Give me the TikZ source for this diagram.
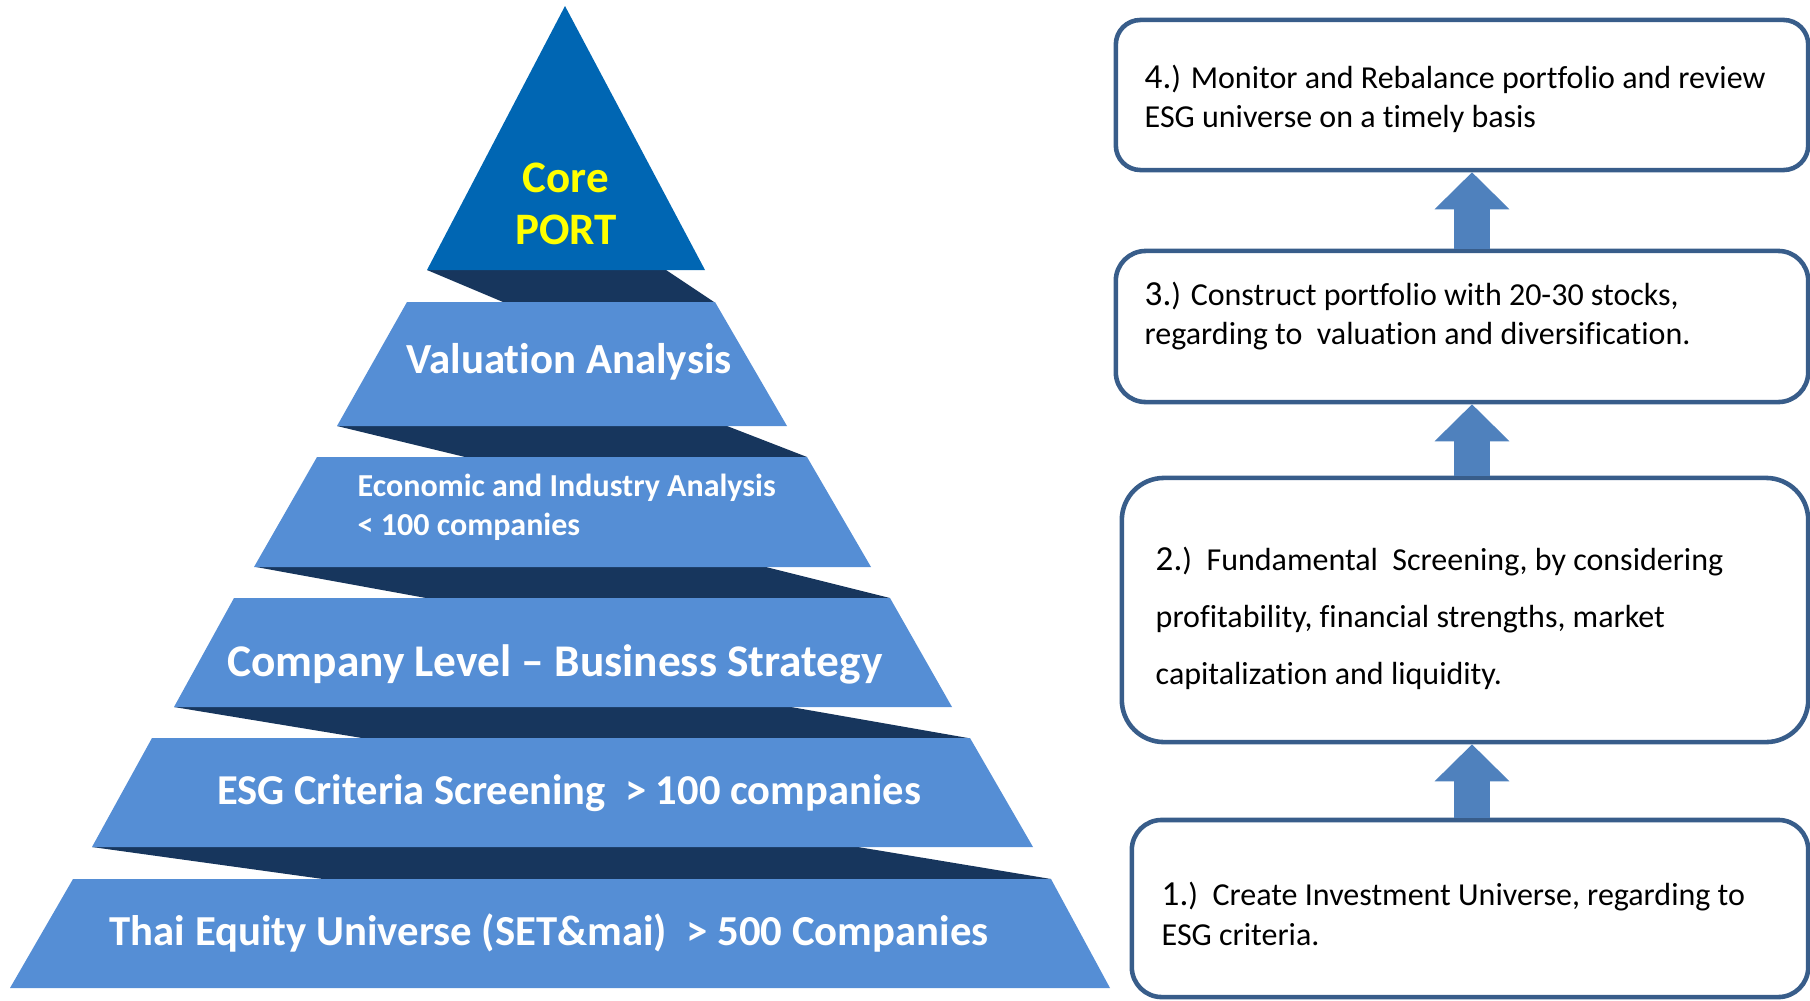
\documentclass[tikz,border=0pt]{standalone}
\usepackage{fontspec}
\setmainfont{Carlito}[Ligatures={TeX,NoCommon}]
\usepackage{xcolor}
\usetikzlibrary{arrows.meta, calc}

\definecolor{tierblue}{RGB}{85,142,213}
\definecolor{topblue}{RGB}{0,102,179}
\definecolor{sidenavy}{RGB}{23,54,93}
\definecolor{boxline}{RGB}{56,93,138}
\definecolor{arrowblue}{RGB}{79,129,189}
\definecolor{coreyellow}{RGB}{255,255,0}

\begin{document}
\begin{tikzpicture}[
    x=0.01cm, y=-0.01cm,
    tier/.style={fill=tierblue},
    tierside/.style={fill=sidenavy},
    tierlabel/.style={text=white, inner sep=0pt, align=center},
    stagebox/.style={draw=boxline, line width=1.3pt, fill=white, inner sep=0pt},
    stagetext/.style={anchor=west, align=left, inner sep=0pt},
    stagearrow/.style={draw=arrowblue, line width=10.5pt,
        -{Triangle[length=10.5pt, width=21.3pt, line width=0pt]}}
]
    \clip (0,0) rectangle (1810,1000);

    % Pyramid: dark sides first, then the tiers
    \fill[tierside] (427,270) -- (666,270) -- (714,302) -- (503,302) -- cycle;
    \fill[tierside] (337,426) -- (727,426) -- (807,457) -- (465,457) -- cycle;
    \fill[tierside] (256,567) -- (766,567) -- (890,598) -- (426,598) -- cycle;
    \fill[tierside] (174,707) -- (791,707) -- (968,738) -- (362,738) -- cycle;
    \fill[tierside] (92,847) -- (858,847) -- (1051,879) -- (323,879) -- cycle;

    \fill[topblue] (565,6) -- (705,270) -- (427,270) -- cycle;
    \fill[tier] (407,302) -- (715,302) -- (787,426) -- (337,426) -- cycle;
    \fill[tier] (317,457) -- (807,457) -- (871,567) -- (254,567) -- cycle;
    \fill[tier] (234,598) -- (890,598) -- (952,707) -- (174,707) -- cycle;
    \fill[tier] (152,738) -- (970,738) -- (1033,847) -- (92,847) -- cycle;
    \fill[tier] (73,879) -- (1051,879) -- (1110,988) -- (10,988) -- cycle;

    \node[tierlabel, text=coreyellow, font=\fontsize{12.8}{15}\selectfont\bfseries] (core) at (566,204) {Core\\PORT};
    \node[tierlabel, font=\fontsize{12.2}{14}\selectfont\bfseries] (valuation) at (569,362) {Valuation Analysis};
    \node[tierlabel, anchor=west, align=left, font=\fontsize{9.1}{11}\selectfont\bfseries] (economic) at (357,507) {Economic and Industry Analysis\\< 100 companies};
    \node[tierlabel, font=\fontsize{12.9}{14}\selectfont\bfseries] (company) at (555,664) {Company Level – Business Strategy};
    \node[tierlabel, font=\fontsize{12.1}{14}\selectfont\bfseries] (esg) at (569,793) {ESG Criteria Screening\ \ > 100 companies};
    \node[tierlabel, font=\fontsize{12.15}{14}\selectfont\bfseries] (thai) at (549,933) {Thai Equity Universe (SET\&mai)\ \ > 500 Companies};

    % Process steps on the right
    \node[stagebox, rounded corners=7pt, minimum width=6.92cm, minimum height=1.50cm] (s4) at (1462,95) {};
    \node[stagebox, rounded corners=8.5pt, minimum width=6.92cm, minimum height=1.51cm] (s3) at (1462,326.5) {};
    \node[stagebox, rounded corners=12pt, minimum width=6.86cm, minimum height=2.64cm] (s2) at (1465,610) {};
    \node[stagebox, rounded corners=8.5pt, minimum width=6.76cm, minimum height=1.77cm] (s1) at (1470,908.5) {};

    \node[stagetext, font=\fontsize{9.1}{11.1}\selectfont] (t4) at (1144,99) {{\fontsize{10}{11}\selectfont 4.}) Monitor and Rebalance portfolio and review\\ESG universe on a timely basis};
    \node[stagetext, font=\fontsize{9.1}{11.3}\selectfont] (t3) at (1144,316) {{\fontsize{10}{11}\selectfont 3.}) Construct portfolio with 20-30 stocks,\\regarding to\ \ valuation and diversification.};
    \node[stagetext, font=\fontsize{9.1}{16.2}\selectfont] (t2) at (1155,618) {{\fontsize{10}{11}\selectfont 2.})\ \ Fundamental\ \ Screening, by considering\\profitability, financial strengths, market\\capitalization and liquidity.};
    \node[stagetext, font=\fontsize{9.1}{11.3}\selectfont] (t1) at (1161,914) {{\fontsize{10}{11}\selectfont 1.})\ \ Create Investment Universe, regarding to\\ESG criteria.};

    \coordinate (axis) at (1472,0);
    \path[stagearrow] (s1.north -| axis) -- (s2.south -| axis);
    \path[stagearrow] (s2.north -| axis) -- (s3.south -| axis);
    \path[stagearrow] (s3.north -| axis) -- (s4.south -| axis);
\end{tikzpicture}
\end{document}
